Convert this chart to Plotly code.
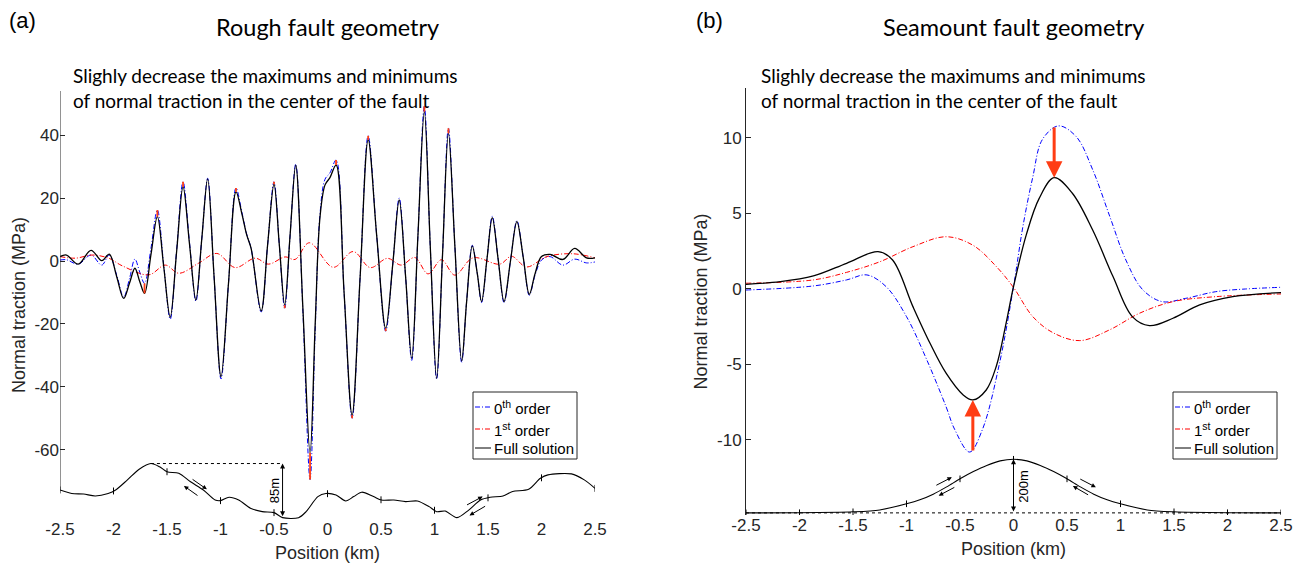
import numpy as np
import plotly.graph_objects as go

W, H = 1304, 567

# ---------------- Panel (a): rough fault ----------------
x_a = [-2.50, -2.44, -2.33, -2.21, -2.11, -2.04, -1.97, -1.905, -1.85, -1.80,
       -1.755, -1.71, -1.65, -1.59, -1.53, -1.47, -1.41, -1.35, -1.29, -1.23,
       -1.175, -1.12, -1.06, -0.995, -0.925, -0.855, -0.80, -0.755, -0.714, -0.62,
       -0.56, -0.50, -0.45, -0.40, -0.35, -0.297, -0.23, -0.163, -0.115, -0.07,
       -0.023, 0.023, 0.08, 0.155, 0.23, 0.305, 0.38, 0.46, 0.544, 0.61,
       0.67, 0.73, 0.787, 0.845, 0.905, 0.96, 1.02, 1.075, 1.13, 1.19,
       1.254, 1.30, 1.353, 1.40, 1.44, 1.49, 1.54, 1.595, 1.65, 1.71,
       1.77, 1.83, 1.886, 1.94, 2.00, 2.08, 2.20, 2.31, 2.42, 2.50]
full_a = [1.4, 1.9, -1.0, 3.4, 0.1, 2.2, -5.0, -11.9, -7.0, -2.3,
          -6.5, -10.3, 2.0, 14.1, -2.0, -17.9, 3.0, 23.6, 5.5, -12.4,
          7.0, 26.1, -5.0, -36.8, -7.0, 22.0, 15.0, 8.3, 4.0, -15.9,
          5.0, 24.4, 5.0, -14.0, 8.0, 30.5, -15.0, -61.0, -20.0, 14.0,
          24.2, 26.5, 30.5, -10.0, -49.0, -5.0, 38.5, 8.0, -21.4, -1.0,
          19.4, -5.0, -31.0, 8.0, 47.5, 5.0, -37.3, 2.0, 40.6, 5.0,
          -31.8, -13.0, 4.8, -4.0, -12.9, 0.5, 13.8, 0.5, -12.9, 0.0,
          12.5, 1.0, -10.6, -4.0, 1.4, 2.1, 0.5, 4.0, 1.0, 1.0]
zeroth_a = [0.3, 0.4, -1.0, 1.9, -1.3, 1.9, -4.5, -11.5, -5.5, 0.6,
            -3.5, -7.1, 4.0, 16.2, -1.5, -18.5, 3.5, 25.2, 6.0, -12.8,
            7.0, 26.3, -5.0, -37.5, -7.0, 23.2, 15.5, 8.5, 4.0, -16.2,
            5.0, 25.2, 5.0, -15.0, 8.0, 30.8, -16.0, -69.5, -22.0, 15.0,
            26.0, 28.0, 32.1, -10.0, -50.0, -5.0, 39.8, 8.0, -22.3, -1.0,
            20.0, -5.0, -31.6, 8.0, 49.2, 5.0, -37.6, 2.0, 42.2, 5.0,
            -32.2, -13.0, 5.0, -4.0, -13.2, 0.5, 14.2, 0.5, -13.2, 0.0,
            12.8, 1.0, -10.9, -4.5, 0.3, 1.4, -1.3, 0.6, -0.6, -0.3]
x_a1 = [-2.50, -2.355, -2.20, -2.045, -1.92, -1.67, -1.516, -1.39, -1.205, -1.034,
        -0.863, -0.676, -0.552, -0.396, -0.303, -0.17, 0.054, 0.24, 0.40, 0.56,
        0.69, 0.816, 0.94, 1.065, 1.19, 1.36, 1.61, 1.72, 1.86, 2.05, 2.29, 2.50]
first_a = [1.4, 0.9, 1.9, 0.9, -1.5, -4.4, -1.3, -3.9, -0.7, 2.4,
           -2.1, 0.9, -1.0, 1.3, 0.5, 5.8, -2.0, 3.0, -2.1, 0.85,
           -1.3, 1.1, -4.1, 0.4, -4.5, 1.0, -1.0, 1.5, -1.9, 1.4, 2.3, 1.0]
rough_x = [-2.50, -2.39, -2.28, -2.17, -2.05, -1.98, -1.87, -1.76, -1.65, -1.57,
           -1.50, -1.39, -1.28, -1.16, -1.05, -1.00, -0.92, -0.83, -0.72, -0.61,
           -0.50, -0.42, -0.27, -0.20, -0.09, -0.015, 0.08, 0.17, 0.245, 0.32,
           0.43, 0.505, 0.62, 0.73, 0.84, 0.95, 1.02, 1.10, 1.21, 1.32,
           1.43, 1.52, 1.64, 1.73, 1.88, 1.99, 2.06, 2.28, 2.40, 2.50]
rough_elev_m = [43.5, 38.0, 37.1, 34.1, 38.0, 43.5, 59.3, 76.1, 85.0, 80.0,
                72.1, 69.7, 56.3, 43.5, 27.7, 26.7, 32.1, 27.7, 14.8, 9.4,
                7.9, 0.0, 0.0, 9.4, 33.1, 38.0, 35.6, 26.2, 33.1, 40.0,
                33.1, 27.7, 27.7, 25.2, 26.2, 17.3, 9.4, 10.4, 0.0, 11.9,
                27.7, 32.1, 34.1, 41.0, 44.5, 61.8, 67.2, 68.7, 59.3, 46.0]

# ---------------- Panel (b): seamount ----------------
x_b_full = [-2.5, -2.18, -1.87, -1.56, -1.266, -1.13, -0.94, -0.78, -0.63, -0.47,
            -0.38, -0.255, -0.16, -0.07, 0.0, 0.12, 0.24, 0.38, 0.55, 0.74,
            0.93, 1.11, 1.27, 1.49, 1.74, 2.05, 2.5]
full_b = [0.31, 0.48, 0.86, 1.70, 2.47, 1.92, -1.17, -3.6, -5.58, -7.02,
          -7.35, -6.69, -5.1, -2.3, 0.15, 3.6, 6.0, 7.37, 6.34, 3.9,
          0.82, -1.83, -2.43, -1.94, -1.06, -0.51, -0.24]
x_b_zero = [-2.5, -1.87, -1.56, -1.37, -1.19, -1.0, -0.81, -0.63, -0.55, -0.41,
            -0.29, -0.13, 0.0, 0.087, 0.18, 0.27, 0.42, 0.585, 0.74, 0.9,
            1.05, 1.21, 1.39, 1.61, 1.89, 2.17, 2.5]
zeroth_b = [-0.07, 0.2, 0.6, 0.93, 0.15, -1.83, -4.7, -7.8, -9.3, -10.8,
            -9.3, -4.9, 0.15, 4.1, 7.4, 9.9, 10.8, 10.1, 7.9, 4.8,
            1.92, -0.07, -0.84, -0.62, -0.18, 0.0, 0.11]
x_b_first = [-2.5, -1.87, -1.56, -1.25, -0.94, -0.63, -0.38, -0.16, 0.0, 0.18,
             0.37, 0.62, 0.9, 1.18, 1.49, 1.89, 2.5]
first_b = [0.38, 0.6, 1.1, 1.8, 2.8, 3.46, 2.9, 1.48, 0.1, -1.83,
           -2.9, -3.42, -2.7, -1.6, -0.84, -0.51, -0.33]
sea_x = [-2.5, -2.0, -1.5, -1.25, -1.0, -0.875, -0.75, -0.625, -0.5, -0.375, -0.25, -0.125,
         0.0, 0.125, 0.25, 0.375, 0.5, 0.625, 0.75, 0.875, 1.0, 1.25, 1.5, 2.0, 2.5]
sea_elev_m = [0, 0.5, 4, 11, 34, 49, 70, 97, 127, 154, 177, 194,
              200, 194, 177, 154, 127, 97, 70, 49, 34, 11, 4, 0.5, 0]

pos_ticks = [-2.5, -2, -1.5, -1, -0.5, 0, 0.5, 1, 1.5, 2, 2.5]
pos_ticklabels = ["-2.5", "-2", "-1.5", "-1", "-0.5", "0", "0.5", "1", "1.5", "2", "2.5"]
ticks_a = [-60, -40, -20, 0, 20, 40]
ticks_b = [-10, -5, 0, 5, 10]
names = ["0<sup>th</sup> order", "1<sup>st</sup> order", "Full solution"]

# ---------------- styling / geometry ----------------
BLUE, RED, BLACK, ORANGE, AXC = "#0000FF", "#FF0000", "#000000", "#FF3D14", "#262626"
DASHDOT = "5px,2px,1px,2px"
HELV = "Liberation Sans, Arial, sans-serif"
HUM = "Lato, Open Sans, sans-serif"
A_X = (60, 595); B_X = (746, 1281)
A_Y = (91, 519); B_Y = (88, 515)
ya_range = [-82.03, 54.05]
yb_range = [-14.97, 13.31]
A_BASE, A_SCALE = -81.6, 0.2024          # profile drawing (a)
B_BASE, B_SCALE = -14.83, 3.55 / 200.0   # profile drawing (b)
STYLES = [dict(color=BLUE, width=1, dash=DASHDOT), dict(color=RED, width=1, dash=DASHDOT),
          dict(color=BLACK, width=1.3)]


def dom_x(p):
    return [p[0] / W, p[1] / W]


def dom_y(p):
    return [1 - p[1] / H, 1 - p[0] / H]


fig = go.Figure()
shapes = []
ann = []


def add_panel(xa_, ya_, xz, z, x1, f1, xf, ff, px, py, tick_half):
    for (xx, yy), nm, st in zip(((xz, z), (x1, f1), (xf, ff)), names, STYLES):
        fig.add_trace(go.Scatter(x=xx, y=yy, mode="lines", name=nm, showlegend=False, xaxis=xa_, yaxis=ya_,
                                 line=dict(shape="spline", smoothing=1, **st)))
    # fault profile
    fig.add_trace(go.Scatter(x=px, y=py, mode="lines", showlegend=False, xaxis=xa_, yaxis=ya_,
                             line=dict(color=BLACK, width=1.1, shape="spline", smoothing=0.8)))
    tx = np.array(pos_ticks, dtype=float)
    ty = np.interp(tx, px, py)
    xs, ys = [], []
    for a, b in zip(tx, ty):
        xs += [a, a, None]
        ys += [b - tick_half, b + tick_half, None]
    fig.add_trace(go.Scatter(x=xs, y=ys, mode="lines", showlegend=False, xaxis=xa_, yaxis=ya_,
                             line=dict(color=BLACK, width=1)))


def add_legend(x0, y0):
    # box 104 x 67 px
    shapes.append(dict(type="rect", xref="paper", yref="paper", x0=x0 / W, x1=(x0 + 104) / W,
                       y0=1 - (y0 + 67) / H, y1=1 - y0 / H, line=dict(color=AXC, width=1), fillcolor="white",
                       layer="above"))
    for k, (nm, st, dy) in enumerate(zip(names, STYLES, (15, 37, 56))):
        yy = 1 - (y0 + dy) / H
        shapes.append(dict(type="line", xref="paper", yref="paper", x0=(x0 + 2) / W, x1=(x0 + 18) / W,
                           y0=yy, y1=yy, line=dict(color=st["color"], width=1, dash=st.get("dash", "solid")),
                           layer="above"))
        ann.append(dict(x=(x0 + 19) / W, y=yy, xref="paper", yref="paper", xanchor="left", yanchor="middle",
                        text=nm, showarrow=False, font=dict(family=HELV, size=15, color=BLACK)))


# ----- panel (a)
rough_y = A_BASE + A_SCALE * np.array(rough_elev_m)
add_panel("x", "y", x_a, zeroth_a, x_a1, first_a, x_a, full_a, rough_x, rough_y, 1.1)

# small red arrows at extrema (0th order -> full solution)
rx, ry = [], []
for i in range(1, len(x_a) - 1):
    f = full_a[i]
    is_ext = (f > full_a[i - 1] and f > full_a[i + 1]) or (f < full_a[i - 1] and f < full_a[i + 1])
    if is_ext and abs(f) >= 10 and abs(zeroth_a[i] - f) >= 0.8:
        rx += [x_a[i], x_a[i], None]
        ry += [zeroth_a[i], f, None]
fig.add_trace(go.Scatter(x=rx, y=ry, mode="lines", showlegend=False, xaxis="x", yaxis="y",
                         line=dict(color=ORANGE, width=1.8)))

# ----- panel (b)
sea_y = B_BASE + B_SCALE * np.array(sea_elev_m)
fig.add_trace(go.Scatter(x=[pos_ticks[0], pos_ticks[-1]], y=[B_BASE, B_BASE], mode="lines", showlegend=False,
                         xaxis="x2", yaxis="y2", line=dict(color=BLACK, width=1, dash="dot")))
add_panel("x2", "y2", x_b_zero, zeroth_b, x_b_first, first_b, x_b_full, full_b, sea_x, sea_y, 0.22)

# (a) dotted level + 85 m arrow
imax = int(np.argmax(rough_y)); imin = int(np.argmin(rough_y))
fig.add_trace(go.Scatter(x=[rough_x[imax], rough_x[imin]], y=[rough_y[imax]] * 2, mode="lines", showlegend=False,
                         xaxis="x", yaxis="y", line=dict(color=BLACK, width=1, dash="dot")))
ann.append(dict(x=rough_x[imin], y=rough_y[imax], ax=rough_x[imin], ay=rough_y[imin], xref="x", yref="y",
                axref="x", ayref="y", showarrow=True, arrowhead=2, arrowsize=1, arrowwidth=1, arrowside="end+start",
                arrowcolor=BLACK, standoff=0, startstandoff=0, text=""))
ann.append(dict(x=rough_x[imin] - 0.075, y=(rough_y[imax] + rough_y[imin]) / 2, xref="x", yref="y",
                text="85m", textangle=-90, showarrow=False, font=dict(family=HELV, size=13, color=BLACK)))
# (b) 200 m arrow
ipk = int(np.argmax(sea_y))
ann.append(dict(x=sea_x[ipk], y=sea_y[ipk], ax=sea_x[ipk], ay=B_BASE, xref="x2", yref="y2",
                axref="x2", ayref="y2", showarrow=True, arrowhead=2, arrowsize=1, arrowwidth=1, arrowside="end+start",
                arrowcolor=BLACK, standoff=0, startstandoff=0, text=""))
ann.append(dict(x=sea_x[ipk] + 0.085, y=(sea_y[ipk] + B_BASE) / 2, xref="x2", yref="y2",
                text="200m", textangle=-90, showarrow=False, font=dict(family=HELV, size=13, color=BLACK)))

# (b) big red arrows from 0th-order extrema to full-solution extrema
jmax = int(np.argmax(full_b)); jmin = int(np.argmin(full_b))
for j, zval in ((jmax, max(zeroth_b)), (jmin, min(zeroth_b))):
    ann.append(dict(x=x_b_full[j], y=full_b[j], ax=x_b_full[j], ay=zval, xref="x2", yref="y2",
                    axref="x2", ayref="y2", showarrow=True, arrowhead=2, arrowsize=1.1, arrowwidth=3,
                    arrowcolor=ORANGE, standoff=0, text=""))

# shear-sense arrows along the faults (tail -> head)
shear = [("x", "y", (-1.275, -69.1), (-1.127, -72.6)), ("x", "y", (-1.201, -74.9), (-1.342, -71.5)),
         ("x", "y", (1.290, -77.8), (1.450, -74.9)), ("x", "y", (1.487, -77.7), (1.327, -80.9)),
         ("x2", "y2", (-0.735, -13.05), (-0.576, -12.47)), ("x2", "y2", (-0.539, -13.09), (-0.699, -13.69)),
         ("x2", "y2", (0.610, -12.54), (0.770, -13.13)), ("x2", "y2", (0.711, -13.69), (0.555, -13.05))]
for xr, yr, t, h in shear:
    ann.append(dict(x=h[0], y=h[1], ax=t[0], ay=t[1], xref=xr, yref=yr, axref=xr, ayref=yr, showarrow=True,
                    arrowhead=2, arrowsize=0.9, arrowwidth=1, arrowcolor=BLACK, standoff=0, text=""))

# titles and notes
sub = "Slighly decrease the maximums and minimums<br>of normal traction in the center of the fault"
for lab, xl, xc, xs_ in (("(a)", 7, 327, 71), ("(b)", 694, 1014, 759)):
    ann.append(dict(x=xl / W, y=1 - 20 / H, xref="paper", yref="paper", xanchor="left", yanchor="middle",
                    text=lab, showarrow=False, font=dict(family=HELV, size=22, color=BLACK)))
    ann.append(dict(x=xc / W, y=1 - 27 / H, xref="paper", yref="paper", xanchor="center", yanchor="middle",
                    text="Rough fault geometry" if lab == "(a)" else "Seamount fault geometry",
                    showarrow=False, font=dict(family=HUM, size=23.5, color=BLACK)))
    ann.append(dict(x=xs_ / W, y=1 - 88 / H, xref="paper", yref="paper", xanchor="left", yanchor="middle",
                    align="left", text=sub, showarrow=False, font=dict(family=HUM, size=19, color=BLACK)))

add_legend(473, 392)
add_legend(1173, 392)

# y-axis line of (a) ends on the fault profile
shapes.append(dict(type="line", xref="x", yref="y", x0=pos_ticks[0], x1=pos_ticks[0], y0=rough_y[0],
                   y1=ya_range[1], line=dict(color=AXC, width=1)))

tickfont = dict(family=HELV, size=17, color=AXC)
titlefont = dict(family=HELV, size=18, color=AXC)
common_x = dict(range=[-2.5, 2.5], tickvals=pos_ticks, ticktext=pos_ticklabels, tickfont=tickfont, ticks="",
                showline=False, showgrid=False, zeroline=False, automargin=False, ticklabelstandoff=-2,
                title=dict(text="Position (km)", font=titlefont, standoff=8))
common_y = dict(ticks="inside", ticklen=5, tickcolor=AXC, tickfont=tickfont, showgrid=False, zeroline=False,
                automargin=False, title=dict(text="Normal traction (MPa)", font=titlefont, standoff=4))

fig.update_layout(
    width=W, height=H, margin=dict(l=0, r=0, t=0, b=0, autoexpand=False),
    paper_bgcolor="white", plot_bgcolor="white",
    xaxis=dict(domain=dom_x(A_X), anchor="y", **common_x),
    yaxis=dict(domain=dom_y(A_Y), anchor="x", range=ya_range, tickvals=ticks_a, ticktext=[str(v) for v in ticks_a],
               showline=False, **common_y),
    xaxis2=dict(domain=dom_x(B_X), anchor="y2", **common_x),
    yaxis2=dict(domain=dom_y(B_Y), anchor="x2", range=yb_range, tickvals=ticks_b, ticktext=[str(v) for v in ticks_b],
                showline=True, linecolor=AXC, linewidth=1, **common_y),
    annotations=ann, shapes=shapes, showlegend=False,
)

fig.write_html("out.html", config={"displayModeBar": False},
               post_script="document.body.style.margin='0px';")
